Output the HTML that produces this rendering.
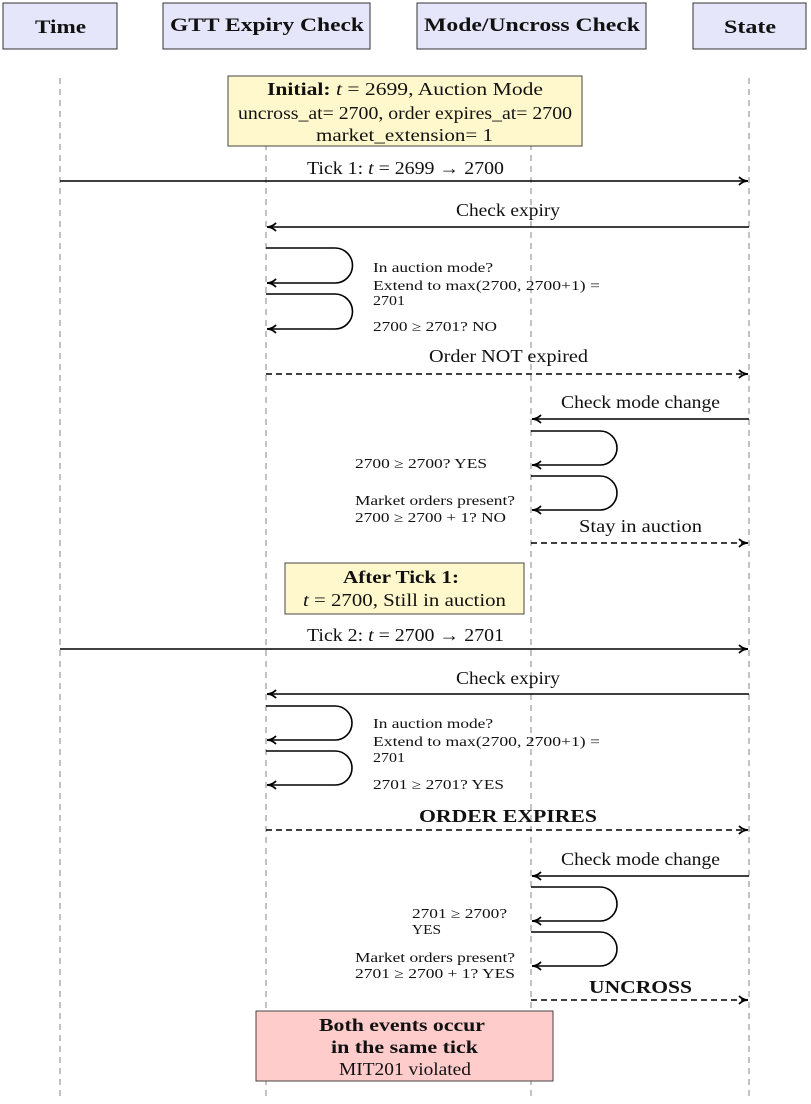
<!DOCTYPE html>
<html><head><meta charset="utf-8"><style>html,body{margin:0;padding:0;background:#fff}svg{display:block}</style></head><body>
<svg width="811" height="1104" viewBox="0 0 811 1104" xmlns="http://www.w3.org/2000/svg" font-family="Liberation Serif, serif" fill="#111">
<defs>
<marker id="a" markerWidth="12" markerHeight="10" refX="10" refY="5" orient="auto" markerUnits="userSpaceOnUse">
<path d="M1,1 Q5,5 10,5 Q5,5 1,9" fill="none" stroke="#000" stroke-width="1.8"/>
</marker>
</defs>
<g stroke="#999" stroke-width="1.2" stroke-dasharray="6,5">
<line x1="60" y1="78" x2="60" y2="1100"/>
<line x1="266" y1="78" x2="266" y2="1100"/>
<line x1="531" y1="78" x2="531" y2="1100"/>
<line x1="749" y1="78" x2="749" y2="1100"/>
</g>
<g fill="#e6e6fa" stroke="#333" stroke-width="1">
<rect x="3" y="3" width="114" height="46"/>
<rect x="163" y="3" width="207" height="46"/>
<rect x="417" y="3" width="229" height="46"/>
<rect x="693" y="3" width="113" height="46"/>
</g>
<g font-weight="bold" font-size="19" lengthAdjust="spacingAndGlyphs">
<text x="35" y="33" textLength="51" lengthAdjust="spacingAndGlyphs">Time</text>
<text x="170" y="31" textLength="194" lengthAdjust="spacingAndGlyphs">GTT Expiry Check</text>
<text x="424" y="31" textLength="216" lengthAdjust="spacingAndGlyphs">Mode/Uncross Check</text>
<text x="724" y="33" textLength="52" lengthAdjust="spacingAndGlyphs">State</text>
</g>
<rect x="228" y="76" width="354" height="70" fill="#fff8cc" stroke="#444"/>
<g font-size="18">
<text x="267" y="95" textLength="276" lengthAdjust="spacingAndGlyphs"><tspan font-weight="bold">Initial:</tspan> <tspan font-style="italic">t</tspan>  =  2699, Auction Mode</text>
<text x="238" y="119" textLength="334" lengthAdjust="spacingAndGlyphs">uncross_at= 2700, order expires_at= 2700</text>
<text x="316" y="141" textLength="177" lengthAdjust="spacingAndGlyphs">market_extension=   1</text>
</g>
<rect x="285" y="563" width="239" height="51" fill="#fff8cc" stroke="#444"/>
<g font-size="18">
<text x="343" y="583" font-weight="bold" textLength="116" lengthAdjust="spacingAndGlyphs">After Tick 1:</text>
<text x="303" y="606" textLength="203" lengthAdjust="spacingAndGlyphs"><tspan font-style="italic">t</tspan> = 2700, Still in auction</text>
</g>
<rect x="256" y="1011" width="297" height="70" fill="#ffcccc" stroke="#444"/>
<g font-size="18">
<text x="319" y="1031" font-weight="bold" textLength="166" lengthAdjust="spacingAndGlyphs">Both events occur</text>
<text x="331" y="1053" font-weight="bold" textLength="147" lengthAdjust="spacingAndGlyphs">in the same tick</text>
<text x="339" y="1075" textLength="132" lengthAdjust="spacingAndGlyphs">MIT201 violated</text>
</g>
<g stroke="#000" stroke-width="1.6" fill="none" marker-end="url(#a)">
<line x1="60" y1="181" x2="748" y2="181"/>
<line x1="749" y1="227" x2="267" y2="227"/>
<path d="M266,248 H335 A17,17 0 0 1 335,283 H267"/>
<path d="M266,294 H335 A17,17 0 0 1 335,329 H267"/>
<line x1="266" y1="374" x2="748" y2="374" stroke-dasharray="6,4"/>
<line x1="749" y1="419" x2="532" y2="419"/>
<path d="M531,431 H600 A17,17 0 0 1 600,465 H532"/>
<path d="M531,476 H600 A17,17 0 0 1 600,510 H532"/>
<line x1="531" y1="543" x2="748" y2="543" stroke-dasharray="6,4"/>
<line x1="60" y1="649" x2="748" y2="649"/>
<line x1="749" y1="694" x2="267" y2="694"/>
<path d="M266,706 H335 A17,17 0 0 1 335,740 H267"/>
<path d="M266,751 H335 A17,17 0 0 1 335,785 H267"/>
<line x1="266" y1="830" x2="748" y2="830" stroke-dasharray="6,4"/>
<line x1="749" y1="876" x2="532" y2="876"/>
<path d="M531,887 H600 A17,17 0 0 1 600,921 H532"/>
<path d="M531,932 H600 A17,17 0 0 1 600,966 H532"/>
<line x1="531" y1="1000" x2="748" y2="1000" stroke-dasharray="6,4"/>
</g>
<g font-size="18">
<text x="307" y="174" textLength="197" lengthAdjust="spacingAndGlyphs">Tick 1: <tspan font-style="italic">t</tspan> = 2699 → 2700</text>
<text x="456" y="216" textLength="104" lengthAdjust="spacingAndGlyphs">Check expiry</text>
<text x="429" y="362" textLength="159" lengthAdjust="spacingAndGlyphs">Order NOT expired</text>
<text x="561" y="408" textLength="159" lengthAdjust="spacingAndGlyphs">Check mode change</text>
<text x="579" y="532" textLength="123" lengthAdjust="spacingAndGlyphs">Stay in auction</text>
<text x="307" y="641" textLength="197" lengthAdjust="spacingAndGlyphs">Tick 2: <tspan font-style="italic">t</tspan> = 2700 → 2701</text>
<text x="456" y="684" textLength="104" lengthAdjust="spacingAndGlyphs">Check expiry</text>
<text x="419" y="822" font-weight="bold" textLength="178" lengthAdjust="spacingAndGlyphs">ORDER EXPIRES</text>
<text x="561" y="865" textLength="159" lengthAdjust="spacingAndGlyphs">Check mode change</text>
<text x="589" y="993" font-weight="bold" textLength="103" lengthAdjust="spacingAndGlyphs">UNCROSS</text>
</g>
<g font-size="13.5">
<text x="373" y="272" textLength="120" lengthAdjust="spacingAndGlyphs">In auction mode?</text>
<text x="373" y="290" textLength="227" lengthAdjust="spacingAndGlyphs">Extend to max(2700, 2700+1) =</text>
<text x="373" y="305" textLength="32" lengthAdjust="spacingAndGlyphs">2701</text>
<text x="373" y="331" textLength="124" lengthAdjust="spacingAndGlyphs">2700 ≥ 2701?  NO</text>
<text x="355" y="468" textLength="132" lengthAdjust="spacingAndGlyphs">2700 ≥ 2700?  YES</text>
<text x="355" y="505" textLength="160" lengthAdjust="spacingAndGlyphs">Market orders present?</text>
<text x="355" y="522" textLength="151" lengthAdjust="spacingAndGlyphs">2700 ≥ 2700 + 1?  NO</text>
<text x="373" y="728" textLength="120" lengthAdjust="spacingAndGlyphs">In auction mode?</text>
<text x="373" y="746" textLength="227" lengthAdjust="spacingAndGlyphs">Extend to max(2700, 2700+1) =</text>
<text x="373" y="762" textLength="32" lengthAdjust="spacingAndGlyphs">2701</text>
<text x="373" y="789" textLength="131" lengthAdjust="spacingAndGlyphs">2701 ≥ 2701?  YES</text>
<text x="412" y="918" textLength="95" lengthAdjust="spacingAndGlyphs">2701  ≥  2700?</text>
<text x="412" y="934" textLength="29" lengthAdjust="spacingAndGlyphs">YES</text>
<text x="355" y="962" textLength="160" lengthAdjust="spacingAndGlyphs">Market orders present?</text>
<text x="355" y="978" textLength="160" lengthAdjust="spacingAndGlyphs">2701 ≥ 2700 + 1?  YES</text>
</g>
</svg>
</body></html>
